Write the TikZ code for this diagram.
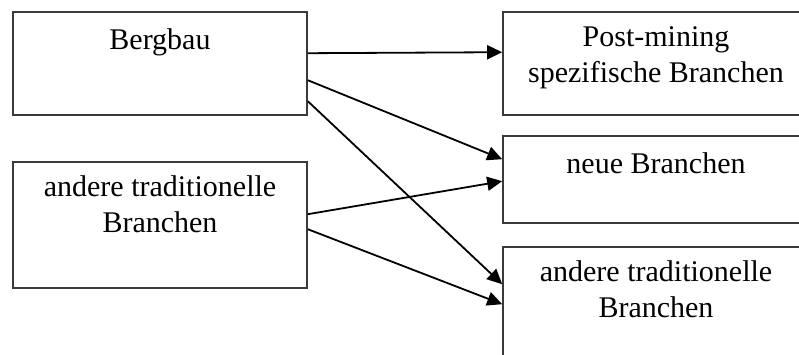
\documentclass[tikz,border=0pt]{standalone}
\usepackage{fontspec}
\setmainfont{Liberation Serif}
\usetikzlibrary{arrows.meta}
\definecolor{boxline}{HTML}{3A3A3A}
\tikzset{
  box/.style={draw=boxline, line width=1.6pt, rectangle, inner sep=0pt, fill=white},
  lbl/.style={anchor=base, align=center, inner sep=0pt, font=\fontsize{30}{36}\selectfont},
  arr/.style={line width=1.8pt, -{Triangle[length=15pt,width=14pt]}}
}
\begin{document}
\begin{tikzpicture}[x=1pt,y=-1pt]
\useasboundingbox (0,0) rectangle (799,354);
\clip (0,0) rectangle (799,354);
\fill[white] (0,0) rectangle (799,354);
% left boxes
\node[box, minimum width=294pt, minimum height=103pt] (A) at (160,63.5) {};
\node[box, minimum width=294pt, minimum height=126pt] (B) at (160,225) {};
% right boxes
\node[box, minimum width=306pt, minimum height=103pt] (D) at (656,63.5) {};
\node[box, minimum width=306pt, minimum height=87pt] (E) at (656,179.5) {};
\node[box, minimum width=306pt, minimum height=113pt] (F) at (656,303.5) {};
% labels (anchor=base = baseline of last line)
\node[lbl] (tA) at (160,49) {Bergbau};
\node[lbl] (tB) at (160,232) {andere traditionelle\\Branchen};
\node[lbl] (tD) at (656,82) {Post-mining\\spezifische Branchen};
\node[lbl] (tE) at (656,173) {neue Branchen};
\node[lbl] (tF) at (656,317) {andere traditionelle\\Branchen};
% arrows
\draw[arr] ([yshift=-42pt]A.north east) -- ([yshift=-41pt]D.north west);
\draw[arr] ([yshift=-69pt]A.north east) -- ([yshift=-24pt]E.north west);
\draw[arr] ([yshift=-90pt]A.north east) -- ([yshift=-38pt]F.north west);
\draw[arr] ([yshift=-53pt]B.north east) -- ([yshift=-46pt]E.north west);
\draw[arr] ([yshift=-68pt]B.north east) -- ([yshift=-58pt]F.north west);
\end{tikzpicture}
\end{document}
